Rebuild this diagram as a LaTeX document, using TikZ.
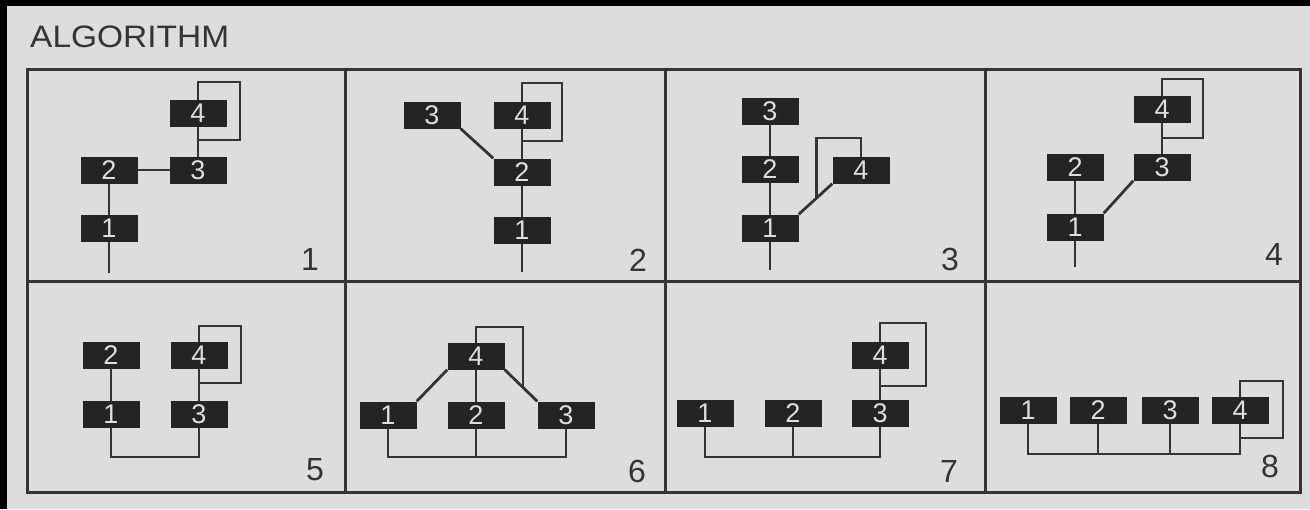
\documentclass[tikz,border=0pt]{standalone}
\usepackage{fontspec}
\setmainfont{Liberation Sans}
\usetikzlibrary{calc}
\pgfdeclarelayer{bg}
\pgfdeclarelayer{lines}
\pgfsetlayers{bg,lines,main}
\definecolor{paper}{RGB}{221,221,221}
\definecolor{ink}{RGB}{52,52,52}
\definecolor{boxfill}{RGB}{36,36,36}
\definecolor{digit}{RGB}{222,222,222}
\tikzset{
 blk/.style={rectangle, fill=boxfill, minimum width=57pt, minimum height=27pt, inner sep=0pt, text=digit, font=\fontsize{27}{27}\selectfont},
 conn/.style={draw=ink, line width=2.8pt},
 frame/.style={draw=ink, line width=3pt},
 plabel/.style={anchor=base east, text=ink, inner sep=0pt, font=\fontsize{32}{32}\selectfont},
}
\newcommand\selfloop[4]{\draw[conn] (#1.center) -- ++(0,-#2) -- ++(#3,0) -- ++(0,{#2+#4}) -| (#1.center);}
\begin{document}
\begin{tikzpicture}[x=1pt,y=-1pt]
\useasboundingbox (0,0) rectangle (1310,509);
\begin{pgfonlayer}{bg}
\fill[black] (0,0) rectangle (1310,509);
\fill[paper] (7,6) rectangle (1310,509);
\end{pgfonlayer}
% title
\node[anchor=base west, inner sep=0pt, text=ink, font=\fontsize{31}{31}\selectfont] (title) at (30,47) {\scalebox{1.08}[1]{ALGORITHM}};
% frame
\draw[frame] (27,69) rectangle (1300,492);
\draw[frame] (27,281) -- (1300,281);
\foreach \x in {345,665,985} \draw[frame] (\x,69) -- (\x,492);
% panel labels
\node[plabel] (l1) at (319,270) {1};
\node[plabel] (l2) at (647,271) {2};
\node[plabel] (l3) at (959,270) {3};
\node[plabel] (l4) at (1283,265) {4};
\node[plabel] (l5) at (324,480) {5};
\node[plabel] (l6) at (646,482) {6};
\node[plabel] (l7) at (958,482) {7};
\node[plabel] (l8) at (1279,477) {8};
% panel 1
\node[blk] (a4) at (198,113) {4};
\node[blk] (a3) at (198,170) {3};
\node[blk] (a2) at (109,170) {2};
\node[blk] (a1) at (109,228) {1};
% panel 2
\node[blk] (b3) at (432,115) {3};
\node[blk] (b4) at (522,115) {4};
\node[blk] (b2) at (522,172) {2};
\node[blk] (b1) at (522,230) {1};
% panel 3
\node[blk] (c3) at (770,111) {3};
\node[blk] (c2) at (770,169) {2};
\node[blk] (c1) at (770,228) {1};
\node[blk] (c4) at (861,170) {4};
% panel 4
\node[blk] (d4) at (1162,109) {4};
\node[blk] (d3) at (1162,167) {3};
\node[blk] (d2) at (1075,167) {2};
\node[blk] (d1) at (1075,227) {1};
% panel 5
\node[blk] (e2) at (111,355) {2};
\node[blk] (e4) at (199,355) {4};
\node[blk] (e1) at (111,414) {1};
\node[blk] (e3) at (199,414) {3};
% panel 6
\node[blk] (f4) at (476,356) {4};
\node[blk] (f1) at (388,415) {1};
\node[blk] (f2) at (476,415) {2};
\node[blk] (f3) at (566,415) {3};
% panel 7
\node[blk] (g4) at (880,355) {4};
\node[blk] (g1) at (705,413) {1};
\node[blk] (g2) at (793,413) {2};
\node[blk] (g3) at (880,413) {3};
% panel 8
\node[blk] (h1) at (1028,410) {1};
\node[blk] (h2) at (1098,410) {2};
\node[blk] (h3) at (1170,410) {3};
\node[blk] (h4) at (1240,410) {4};
\begin{pgfonlayer}{lines}
% panel 1
\draw[conn] (a2.center) -- (a3.center);
\draw[conn] (a4.center) -- (a3.center);
\draw[conn] (a2.center) -- (a1.center) -- ++(0,45);
\selfloop{a4}{31}{42}{27}
% panel 2
\draw[conn] (b4.center) -- (b2.center) -- (b1.center) -- ++(0,42);
\draw[conn] (b3.south east) -- (b2.north west);
\selfloop{b4}{32}{40}{26}
% panel 3
\draw[conn] (c3.center) -- (c2.center) -- (c1.center) -- ++(0,42);
\draw[conn] (c1.north east) -- (c4.south west);
\coordinate (cx) at ($(c1.north east)!0.53!(c4.south west)$);
\draw[conn] (c4.center) -- ++(0,-32) -| (cx);
% panel 4
\draw[conn] (d4.center) -- (d3.center);
\draw[conn] (d2.center) -- (d1.center) -- ++(0,40);
\draw[conn] (d1.north east) -- (d3.south west);
\selfloop{d4}{30}{41}{29}
% panel 5
\draw[conn] (e2.center) -- (e1.center) -- ++(0,43) -| (e3.center) -- (e4.center);
\selfloop{e4}{29}{42}{28}
% panel 6
\draw[conn] (f4.center) -- (f2.center);
\draw[conn] (f4.south west) -- (f1.north east);
\draw[conn] (f4.south east) -- (f3.north west);
\draw[conn] (f1.center) -- ++(0,42) coordinate (fb) -| (f3.center);
\draw[conn] (f2.center) -- (f2 |- fb);
\coordinate (fx) at ($(f4.south east)!0.56!(f3.north west)$);
\draw[conn] (f4.center) -- ++(0,-29) -| (fx);
% panel 7
\draw[conn] (g4.center) -- (g3.center);
\draw[conn] (g1.center) -- ++(0,44) coordinate (gb) -| (g3.center);
\draw[conn] (g2.center) -- (g2 |- gb);
\selfloop{g4}{32}{46}{31}
% panel 8
\draw[conn] (h1.center) -- ++(0,44) coordinate (hb) -| (h4.center);
\draw[conn] (h2.center) -- (h2 |- hb);
\draw[conn] (h3.center) -- (h3 |- hb);
\selfloop{h4}{29}{43}{28}
\end{pgfonlayer}
\end{tikzpicture}
\end{document}
